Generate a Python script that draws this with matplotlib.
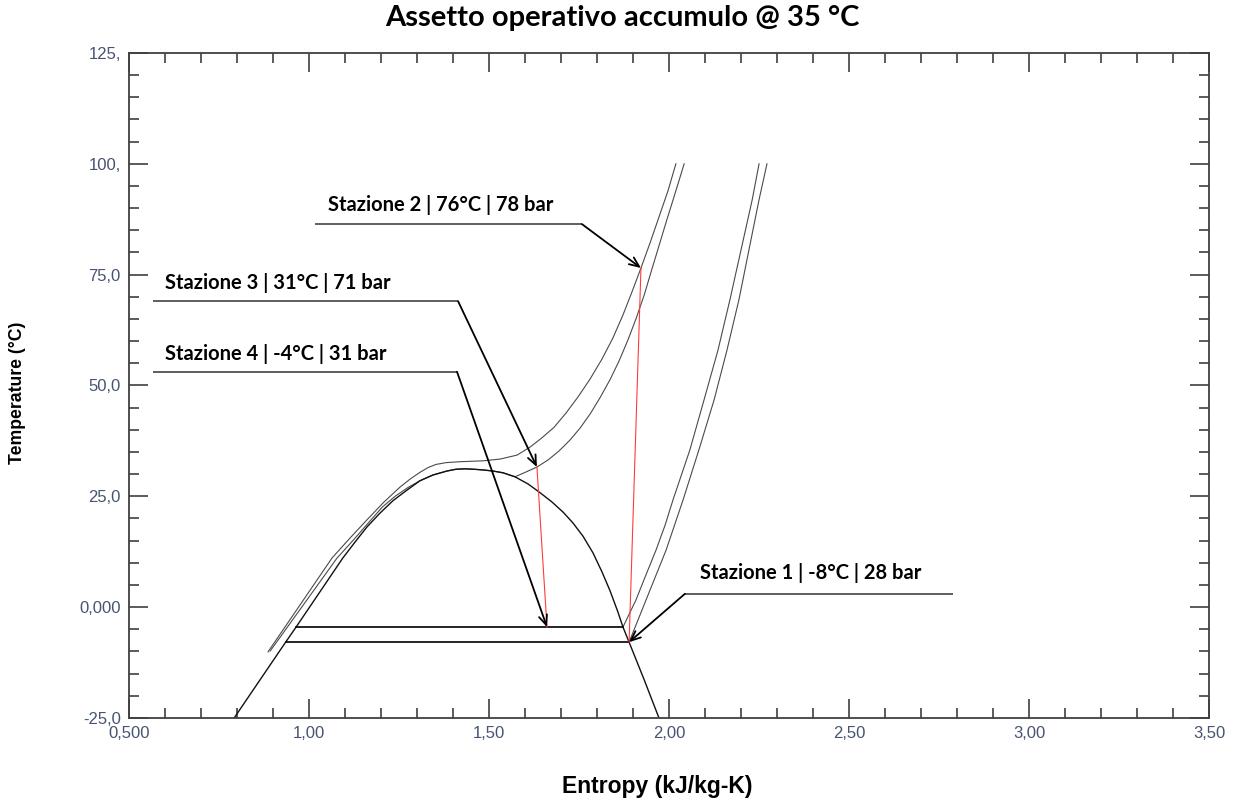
import matplotlib
matplotlib.use("Agg")
import matplotlib.pyplot as plt
from matplotlib.ticker import FixedLocator, FixedFormatter, MultipleLocator

plt.rcParams['font.family'] = ['Liberation Sans', 'DejaVu Sans']

# --- dati letti dal diagramma T-s (CO2) ---
# curva di saturazione
dome_s = [0.792, 0.935, 0.964, 1.094, 1.128, 1.161, 1.197, 1.233, 1.272, 1.308, 1.344,
          1.383, 1.408, 1.433, 1.458, 1.483, 1.511, 1.539, 1.572, 1.608, 1.642, 1.675,
          1.706, 1.733, 1.761, 1.789, 1.814, 1.836, 1.858, 1.872, 1.889, 1.931, 1.972]
dome_T = [-25.0, -7.9, -4.5, 11.1, 14.7, 18.1, 21.2, 24.0, 26.4, 28.5, 29.8,
          30.7, 31.1, 31.2, 31.1, 30.95, 30.7, 30.3, 29.4, 27.8, 25.8, 23.7,
          21.4, 19.0, 16.0, 12.2, 7.9, 3.7, -1.1, -4.5, -7.9, -16.4, -25.0]

# isobara 78 bar
p78_s = [0.886, 1.064, 1.114, 1.161, 1.208, 1.253, 1.281, 1.308, 1.331, 1.353, 1.381,
         1.419, 1.483, 1.531, 1.578, 1.614, 1.647, 1.681, 1.714, 1.747, 1.781, 1.814,
         1.844, 1.872, 1.897, 1.922, 1.947, 1.972, 1.997, 2.019]
p78_T = [-10.1, 11.1, 15.6, 19.7, 23.7, 27.1, 28.9, 30.4, 31.5, 32.2, 32.6,
         32.8, 33.0, 33.4, 34.3, 36.1, 38.2, 40.6, 43.8, 47.4, 51.5, 56.0,
         60.7, 65.9, 71.1, 76.5, 82.1, 88.0, 93.9, 100.0]

# isobara 71 bar
p71_s = [0.892, 1.078, 1.125, 1.169, 1.204, 1.239, 1.275, 1.308, 1.344, 1.383, 1.408,
         1.433, 1.458, 1.483, 1.511, 1.539, 1.572, 1.603, 1.633, 1.664, 1.694, 1.725,
         1.753, 1.781, 1.808, 1.836, 1.861, 1.886, 1.908, 1.931, 1.950, 1.972, 1.994,
         2.017, 2.042]
p71_T = [-9.9, 11.1, 15.3, 19.4, 22.6, 25.0, 27.0, 28.5, 29.8, 30.7, 31.1,
         31.2, 31.1, 30.95, 30.7, 30.3, 29.4, 30.5, 31.6, 33.2, 35.2, 37.7,
         40.4, 43.6, 47.2, 51.3, 55.5, 60.3, 65.0, 70.4, 75.6, 81.5, 87.4,
         93.4, 100.0]

# isobare di bassa pressione (vapore surriscaldato)
p31_s = [1.872, 1.908, 1.936, 1.964, 1.989, 2.011, 2.058, 2.097, 2.136, 2.169, 2.200,
         2.231, 2.250]
p31_T = [-4.5, 1.6, 7.3, 12.9, 18.5, 24.2, 35.5, 46.7, 58.0, 69.3, 80.6,
         91.9, 100.0]
p28_s = [1.889, 1.936, 1.992, 2.039, 2.083, 2.125, 2.161, 2.194, 2.222, 2.250, 2.272]
p28_T = [-7.9, 1.6, 12.9, 24.2, 35.5, 46.7, 58.0, 69.3, 80.6, 91.9, 100.0]

# tratti bifase (evaporatore)
evap31_s = [0.964, 1.872]
evap31_T = [-4.5, -4.5]
evap28_s = [0.935, 1.889]
evap28_T = [-7.9, -7.9]

# stazioni del ciclo: 1, 2, 3, 4
st_s = [1.889, 1.922, 1.633, 1.661]
st_T = [-7.9, 76.5, 31.6, -4.5]
st_labels = ['Stazione 1 | -8°C | 28 bar', 'Stazione 2 | 76°C | 78 bar',
             'Stazione 3 | 31°C | 71 bar', 'Stazione 4 | -4°C | 31 bar']

x_ticks = [0.5, 1.0, 1.5, 2.0, 2.5, 3.0, 3.5]
x_labels = ['0,500', '1,00', '1,50', '2,00', '2,50', '3,00', '3,50']
y_ticks = [-25, 0, 25, 50, 75, 100, 125]
y_labels = ['-25,0', '0,000', '25,0', '50,0', '75,0', '100,', '125,']

# --- figura ---
fig = plt.figure(figsize=(12.36, 7.98), dpi=100)
ax = fig.add_axes([0.1044, 0.1003, 0.8738, 0.8333])

iso_col = '#4a4a4a'
ax.plot(p78_s, p78_T, color=iso_col, lw=0.8)
ax.plot(p71_s, p71_T, color=iso_col, lw=0.8)
ax.plot(p31_s, p31_T, color=iso_col, lw=0.8)
ax.plot(p28_s, p28_T, color=iso_col, lw=0.8)
ax.plot(dome_s, dome_T, color='#111111', lw=1.0)
ax.plot(evap31_s, evap31_T, color='black', lw=1.2)
ax.plot(evap28_s, evap28_T, color='black', lw=1.2)

# compressione 1-2 e laminazione 3-4
ax.plot([st_s[0], st_s[1]], [st_T[0], st_T[1]], color='#ff3b3b', lw=0.8)
ax.plot([st_s[2], st_s[3]], [st_T[2], st_T[3]], color='#ff3b3b', lw=0.8)

# etichette con linee di richiamo: (s testo, T testo, s inizio, s gomito, s fine, T linea)
leaders = [
    (2.086, 7.6, 2.044, 2.044, 2.789, 3.0),
    (1.053, 90.7, 1.017, 1.758, 1.758, 86.4),
    (0.600, 73.1, 0.567, 1.414, 1.414, 69.0),
    (0.600, 57.1, 0.567, 1.411, 1.411, 53.1),
]
for i, (tx, ty, x0, xe, x1, yl) in enumerate(leaders):
    ax.plot([x0, x1], [yl, yl], color='#333333', lw=1.1, solid_capstyle='butt')
    ax.annotate('', xy=(st_s[i], st_T[i]), xytext=(xe, yl),
                arrowprops=dict(arrowstyle='->,head_length=0.7,head_width=0.3',
                                color='black', lw=1.3, shrinkA=0, shrinkB=0))
    ax.text(tx, ty, st_labels[i], ha='left', va='center', fontsize=14.5,
            fontweight='bold', family=['Lato', 'DejaVu Sans'])

ax.set_xlim(0.5, 3.5)
ax.set_ylim(-25, 125)
ax.xaxis.set_major_locator(FixedLocator(x_ticks))
ax.xaxis.set_major_formatter(FixedFormatter(x_labels))
ax.xaxis.set_minor_locator(MultipleLocator(0.1))
ax.yaxis.set_major_locator(FixedLocator(y_ticks))
ax.yaxis.set_major_formatter(FixedFormatter(y_labels))
ax.yaxis.set_minor_locator(MultipleLocator(5))

ax.tick_params(which='both', direction='in', top=True, right=True,
               colors='#404040', width=1.2, labelcolor='#475370', labelsize=12)
ax.tick_params(which='major', length=14, pad=6)
ax.tick_params(which='minor', length=7)
for sp in ax.spines.values():
    sp.set_color('#404040')
    sp.set_linewidth(1.3)

fig.text(0.5036, 1 - 18 / 798, 'Assetto operativo accumulo @ 35 °C', ha='center', va='center',
         fontsize=21, fontweight='bold', family=['Lato', 'DejaVu Sans'])
fig.text(0.532, 1 - 787 / 798, 'Entropy (kJ/kg-K)', ha='center', va='center',
         fontsize=16.5, fontweight='bold')
fig.text(18 / 1236, 1 - 393 / 798, 'Temperature (°C)', ha='center', va='center',
         rotation=90, fontsize=12.7, fontweight='bold')

fig.savefig('out.png', dpi=100)
